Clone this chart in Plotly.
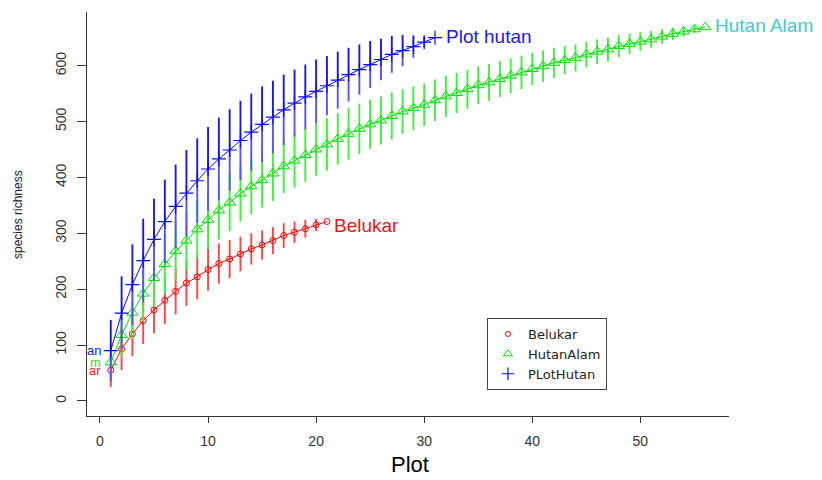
import plotly.graph_objects as go

# ---- data ----
belukar_x = list(range(1, 22))
belukar_y = [55, 93, 120, 144, 163, 180, 196, 211, 222, 235, 246, 254, 263, 272, 279, 287, 296, 302, 308, 315, 321]
belukar_sd = [30, 38, 40, 42, 42, 42, 41, 41, 40, 38, 36, 34, 31, 28, 26, 24, 22, 19, 16, 11, 0]

hutanalam_x = list(range(1, 57))
hutanalam_y = [69, 118, 158, 192, 220, 245, 268, 287, 307, 324, 341, 355, 371, 384, 395, 407, 420, 430, 440, 450,
               459, 469, 478, 487, 495, 502, 510, 518, 524, 530, 538, 545, 551, 558, 565, 570, 576, 582, 588, 594,
               599, 605, 610, 614, 620, 625, 629, 635, 639, 643, 647, 652, 657, 661, 665, 669]
hutanalam_sd = [30, 40, 46, 50, 52, 53, 53, 53, 53, 52, 52, 51, 50, 50, 49, 49, 48, 48, 48, 47,
                47, 46, 46, 45, 44, 43, 42, 40, 39, 38, 37, 37, 36, 35, 34, 33, 32, 31, 30, 29,
                28, 27, 25, 24, 23, 22, 21, 20, 18, 17, 15, 13, 11, 9, 6, 0]

plothutan_x = list(range(1, 32))
plothutan_y = [90, 157, 208, 251, 289, 321, 348, 372, 394, 415, 433, 449, 466, 481, 495, 508, 521, 533, 544, 554,
               564, 574, 584, 593, 602, 611, 620, 627, 634, 642, 650]
plothutan_sd = [55, 66, 72, 75, 73, 75, 75, 77, 76, 75, 74, 73, 71, 69, 68, 65, 63, 60, 58, 57,
                53, 51, 48, 45, 42, 37, 33, 28, 20, 10, 0]

legend_names = ["Belukar", "HutanAlam", "PLotHutan"]
end_labels = ["Belukar", "Plot hutan", "Hutan Alam"]
# start labels are clipped by the plot region in the reference: only their tails show
start_label_tails = ["ar", "m", "an"]
x_ticks = [0, 10, 20, 30, 40, 50]
y_ticks = [0, 100, 200, 300, 400, 500, 600]

RED, GREEN, BLUE = "#ff0000", "#00e000", "#0a0aff"
FONT = "Arial, Liberation Sans, sans-serif"

fig = go.Figure()

# Belukar
fig.add_trace(go.Scatter(
    x=belukar_x, y=belukar_y, mode="lines+markers", showlegend=False,
    line=dict(color=RED, width=1),
    marker=dict(symbol="circle-open", size=6, color=RED, line=dict(width=1, color=RED)),
    error_y=dict(type="data", array=belukar_sd, color="#ff4545", thickness=1.9, width=0),
))
# HutanAlam
fig.add_trace(go.Scatter(
    x=hutanalam_x, y=hutanalam_y, mode="lines+markers", showlegend=False,
    line=dict(color=GREEN, width=1),
    marker=dict(symbol="triangle-up-open", size=10, color=GREEN, line=dict(width=1, color=GREEN)),
    error_y=dict(type="data", array=hutanalam_sd, color="#40f040", thickness=1.9, width=0),
))
# PlotHutan lower half of bars (lighter)
fig.add_trace(go.Scatter(
    x=plothutan_x, y=plothutan_y, mode="markers", showlegend=False,
    marker=dict(size=1, opacity=0),
    error_y=dict(type="data", symmetric=False, array=[0] * len(plothutan_sd), arrayminus=plothutan_sd,
                 color="#5555ff", thickness=1.9, width=0),
))
# PlotHutan upper half + line
fig.add_trace(go.Scatter(
    x=plothutan_x, y=plothutan_y, mode="lines+markers", showlegend=False,
    line=dict(color=BLUE, width=1),
    marker=dict(symbol="cross-thin-open", size=10, color=BLUE, line=dict(width=1.2, color=BLUE)),
    error_y=dict(type="data", symmetric=False, array=plothutan_sd, arrayminus=[0] * len(plothutan_sd),
                 color="#1818e8", thickness=1.9, width=0),
))

# legend-only traces
fig.add_trace(go.Scatter(x=[None], y=[None], mode="markers", name=legend_names[0],
                         marker=dict(symbol="circle-open", size=5, color=RED, line=dict(width=1, color=RED))))
fig.add_trace(go.Scatter(x=[None], y=[None], mode="markers", name=legend_names[1],
                         marker=dict(symbol="triangle-up-open", size=8, color=GREEN, line=dict(width=1, color=GREEN))))
fig.add_trace(go.Scatter(x=[None], y=[None], mode="markers", name=legend_names[2],
                         marker=dict(symbol="cross-thin-open", size=9, color=BLUE, line=dict(width=1.2, color=BLUE))))

# clipped start-label tails, ending at x = 0
start_colors = ["#ff2020", "#33dd33", "#2020ff"]
for txt, yv, col in zip(start_label_tails, [belukar_y[0], hutanalam_y[0], plothutan_y[0]], start_colors):
    fig.add_annotation(x=0.15, y=yv, xref="x", yref="y", text=txt, showarrow=False, borderpad=0,
                       xanchor="right", yanchor="middle", font=dict(family=FONT, size=13, color=col))

# end labels
fig.add_annotation(x=21.5, y=314, xref="x", yref="y", text=end_labels[0], showarrow=False,
                   xanchor="left", yanchor="middle", font=dict(family=FONT, size=19, color="#ff1010"))
fig.add_annotation(x=31.8, y=653, xref="x", yref="y", text=end_labels[1], showarrow=False,
                   xanchor="left", yanchor="middle", font=dict(family=FONT, size=19, color="#1a1aee"))
fig.add_annotation(x=56.7, y=671, xref="x", yref="y", text=end_labels[2], showarrow=False,
                   xanchor="left", yanchor="middle", font=dict(family=FONT, size=19, color="#40cad2"))

# axis titles
fig.add_annotation(x=-0.1075, y=0.5, xref="paper", yref="paper", text="species richness", showarrow=False,
                   textangle=-90, xanchor="center", yanchor="middle",
                   font=dict(family=FONT, size=12, color="#222222"))
fig.add_annotation(x=0.503, y=-0.121, xref="paper", yref="paper", text="Plot", showarrow=False,
                   xanchor="center", yanchor="middle", font=dict(family=FONT, size=22, color="#000000"))

fig.update_layout(
    width=822, height=480,
    margin=dict(l=87, r=93, t=12, b=64),
    paper_bgcolor="white", plot_bgcolor="white",
    font=dict(family=FONT),
    legend=dict(x=0.623, y=0.2426, xanchor="left", yanchor="top",
                bordercolor="#444444", borderwidth=1, bgcolor="white",
                font=dict(family="DejaVu Sans, sans-serif", size=13, color="#222222"),
                tracegroupgap=0, itemsizing="trace"),
)
fig.update_xaxes(range=[-1.2, 58.2], tickvals=x_ticks, showline=True, linecolor="#333333", linewidth=1.2,
                 ticks="outside", ticklen=6, tickcolor="#333333", showgrid=False, zeroline=False,
                 tickfont=dict(family=FONT, size=14, color="#333333"), ticklabelstandoff=6)
fig.update_yaxes(range=[-27, 696], tickvals=y_ticks, showline=True, linecolor="#333333", linewidth=1.2,
                 ticks="outside", ticklen=9, tickcolor="#333333", showgrid=False, zeroline=False,
                 tickangle=-90, tickfont=dict(family=FONT, size=14, color="#333333"), ticklabelstandoff=5)

fig.write_html("out.html")
